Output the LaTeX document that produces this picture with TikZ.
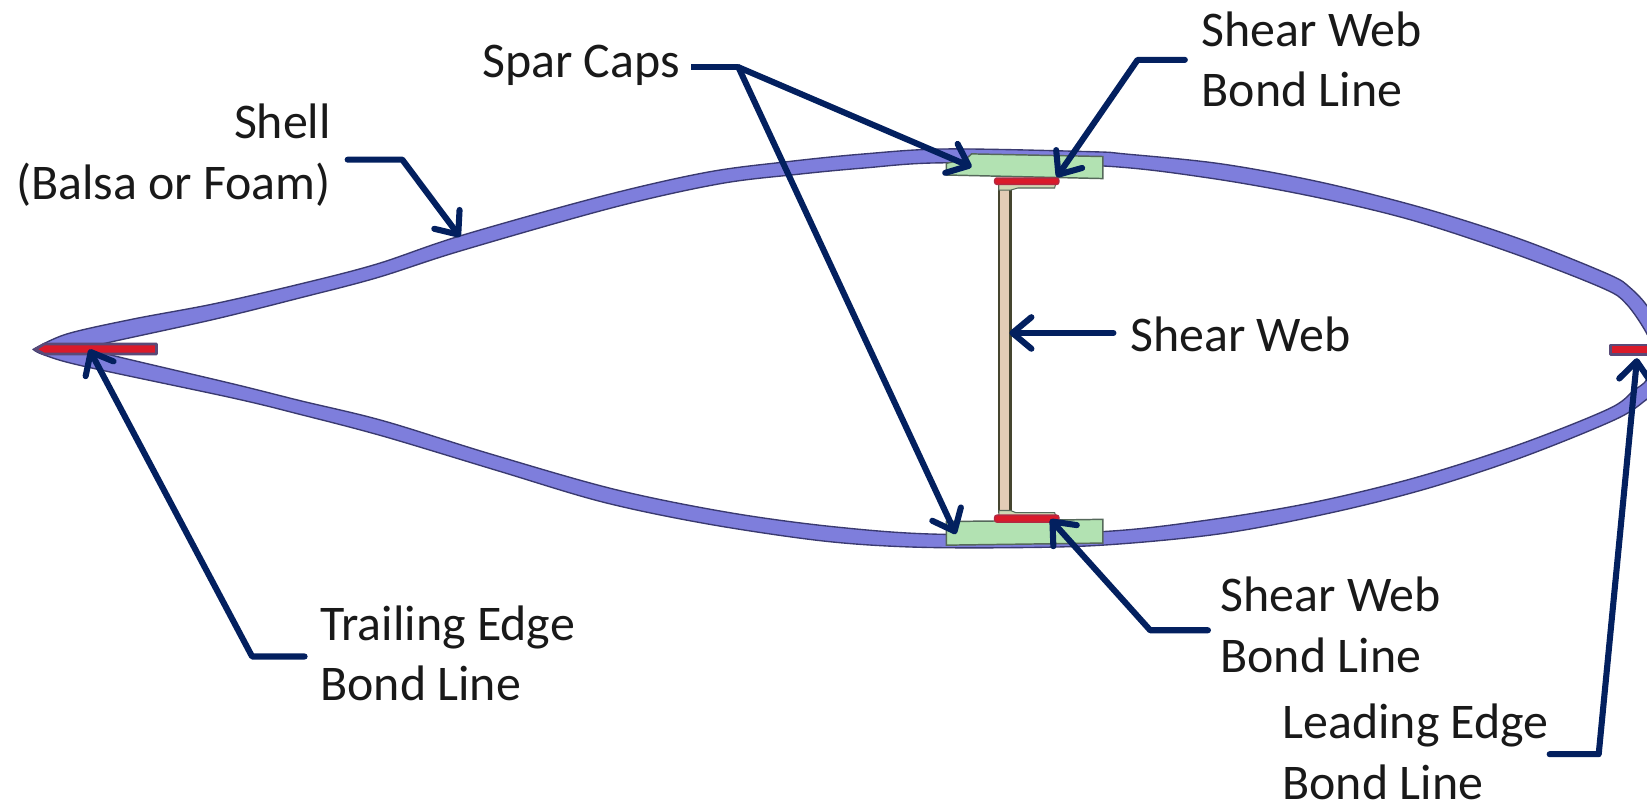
\documentclass[tikz,border=0pt]{standalone}
\usepackage{fontspec}
\setmainfont{Carlito}
\usetikzlibrary{arrows.meta}
\definecolor{navy}{HTML}{03205F}
\definecolor{shellc}{HTML}{7E7EDC}
\definecolor{shelle}{HTML}{3A3A70}
\definecolor{capc}{HTML}{B2E2B2}
\definecolor{cape}{HTML}{55685A}
\definecolor{webc}{HTML}{E2CCB6}
\definecolor{webe}{HTML}{45452F}
\definecolor{flangec}{HTML}{CFD8B4}
\definecolor{redc}{HTML}{DA1A2A}
\definecolor{rede}{HTML}{5A4A78}
\tikzset{
 lbl/.style={font=\fontsize{47.5}{58}\selectfont,text=black!90,inner sep=0pt,outer sep=0pt,align=left},
 lead/.style={draw=navy,line width=5.8pt,line join=round,line cap=round,-{Straight Barb[length=18pt,width=30pt,line width=5.8pt,round]}},
 leadplain/.style={draw=navy,line width=5.8pt,line join=round},
 shellpart/.style={fill=shellc,draw=shelle,line width=1.3pt,even odd rule},
 cappart/.style={fill=capc,draw=cape,line width=1.4pt},
 webpart/.style={fill=webc,draw=webe,line width=2pt},
 flangepart/.style={fill=flangec,draw=cape,line width=1pt},
 redpart/.style={fill=redc,draw=redc!70!rede,line width=1.4pt,line join=round,rounded corners=2pt},
 bondpart/.style={fill=redc,draw=rede,line width=2.6pt,line join=round}
}
\begin{document}
\begin{tikzpicture}[x=1pt,y=-1pt]
\useasboundingbox (0,0) rectangle (1568,763.6);
\clip (0,0) rectangle (1568,763.6);
% shell
\path[shellpart]
 plot[smooth,tension=0.55] coordinates {(31.7,332.6)(63.5,318)(127,303.7)(203,289.4)(286,270.3)(359,251.3)(438,224.6)(574,186.5)(673,164)(749,154)(822,146.6)(901,141.8)(1038,144.4)(1071.5,146.6)(1162.6,156)(1257.6,173.5)(1355.7,198.3)(1447,227.5)(1531,261)(1552,274)(1570,294)(1585,325)(1590,345)(1580,370)(1568,380)(1538,399.3)(1450,435)(1359,465)(1267.5,488.1)(1163,508)(1049.5,519)(950,521.5)(860,520.5)(779,514.5)(672.4,498.6)(574,478)(475,448.5)(364.5,415.2)(285.6,394.5)(222,379)(79,348.5)(41,337.5)(31.7,332.6)} -- cycle
 plot[smooth,tension=0.55] coordinates {(85,332)(98,327.3)(203,304.2)(286,283.5)(359,264.4)(438,239)(584,197.5)(685,175)(759,166)(822,160)(898,155)(1050,158)(1149.4,169.2)(1247.5,186.6)(1342,209)(1440,241)(1525,274)(1548,289)(1568,318)(1574,338)(1568,361)(1555,372)(1531.4,389.3)(1446.8,423)(1348.8,454.4)(1250.7,478.2)(1152.7,494.7)(1049.5,506.1)(899,508.7)(798.7,502)(696,488.3)(585.6,466)(467,432.2)(364.5,400.5)(285.6,381.4)(222,365.5)(108,338.6)(85,332)} -- cycle;
% trailing and leading bond lines
\path[bondpart] (33.5,332.6) -- (42,327.6) -- (149,327.6) -- (149,337) -- (42,337) -- cycle;
\path[bondpart] (1533,328.5) rectangle (1580,337.5);
% web
\path[webpart] (951,177) rectangle (962,487);
\path[flangepart] (951,175) -- (1005,175) -- (1004,179) -- (969,179) -- (962,181) -- (951,181) -- cycle;
\path[flangepart] (951,486) -- (962,486) -- (967,488) -- (1004,488) -- (1005,491) -- (951,491) -- cycle;
% spar caps
\path[cappart] (901,166.6) -- (901,155.5) -- (920,151) -- (925,146.5) -- (1050,149) -- (1050,170) -- cycle;
\path[cappart] (901,519) -- (901,496.5) -- (947,496) -- (1050,494.4) -- (1050,517) -- cycle;
% shear web bond lines
\path[redpart] (947,169.5) rectangle (1008,175.5);
\path[redpart] (947,490.5) rectangle (1008,497);
% labels
\node[lbl,anchor=west] (spar) at (459,62) {Spar Caps};
\node[lbl,anchor=west] (swt) at (1144,56.5) {Shear Web\\Bond Line};
\node[lbl,anchor=east,align=right] (shell) at (315,148) {Shell\\(Balsa or Foam)};
\node[lbl,anchor=west] (sw) at (1076,318) {Shear Web};
\node[lbl,anchor=west] (swb) at (1162,595) {Shear Web\\Bond Line};
\node[lbl,anchor=west] (te) at (305,622) {Trailing Edge\\Bond Line};
\node[lbl,anchor=west] (le) at (1221,716) {Leading Edge\\Bond Line};
% connector anchors
\coordinate (sparA) at (703,64);
\coordinate (sparT) at (925,159);
\coordinate (sparB) at (910,508.4);
\coordinate (swtA) at (1083,57);
\coordinate (swtT) at (1006,168.6);
\coordinate (shellA) at (383,152);
\coordinate (shellT) at (438,225.6);
\coordinate (swT) at (961,317);
\coordinate (swbA) at (1095,600);
\coordinate (swbT) at (1000,494.4);
\coordinate (teA) at (240,625);
\coordinate (teT) at (85,332.6);
\coordinate (leA) at (1522,718);
\coordinate (leT) at (1558.5,341);
% connectors
\draw[leadplain] (spar.east) ++(11,2) -- (sparA);
\draw[lead] (sparA) -- (sparT);
\draw[lead] (sparA) -- (sparB);
\draw[lead] (swt.west |- swtA) ++(-16,0) -- (swtA) -- (swtT);
\draw[lead] (shell.east |- shellA) ++(16,0) -- (shellA) -- (shellT);
\draw[lead] (sw.west) ++(-16,-1) -- (swT);
\draw[lead] (swb.west |- swbA) ++(-12,0) -- (swbA) -- (swbT);
\draw[lead] (te.west |- teA) ++(-15,0) -- (teA) -- (teT);
\draw[lead] (le.east |- leA) ++(1,0) -- (leA) -- (leT);
\end{tikzpicture}
\end{document}
